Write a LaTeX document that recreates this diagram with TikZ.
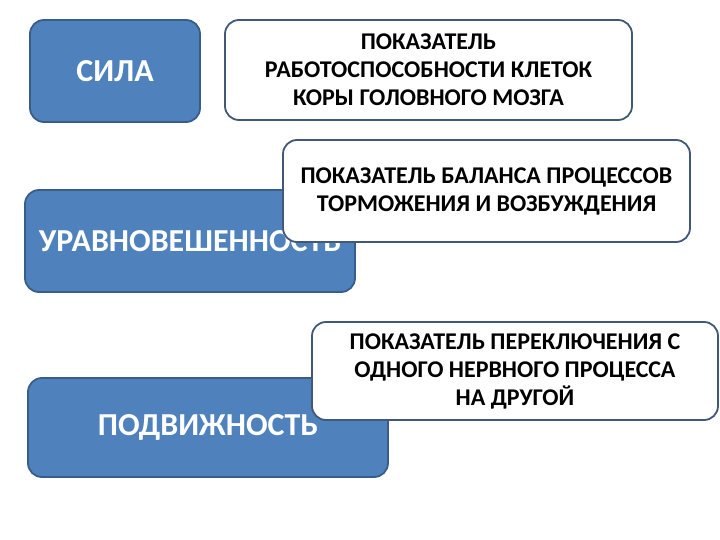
\documentclass[tikz,border=0pt]{standalone}
\usepackage{fontspec}
\setmainfont{Carlito}
\usetikzlibrary{positioning}

\definecolor{boxblue}{RGB}{79,129,189}
\definecolor{boxedge}{RGB}{56,93,138}
\definecolor{cardedge}{RGB}{65,88,118}

\tikzset{
  propbox/.style={draw=boxedge,line width=1.8pt,fill=boxblue,rounded corners=14pt,
    text=white,font=\bfseries\fontsize{32}{36}\selectfont,align=center,inner sep=0pt},
  cardbox/.style={draw=cardedge,line width=1.8pt,fill=white,rounded corners=14pt,
    text=black,font=\bfseries\fontsize{24}{28}\selectfont,align=center,inner sep=0pt}
}

\begin{document}
\begin{tikzpicture}[x=1pt,y=-1pt]
    \useasboundingbox (0,0) rectangle (720,540);

    % properties
    \node[propbox,minimum width=170pt,minimum height=102pt] (sila) at (115,71) {СИЛА};
    \node[propbox,minimum width=330pt,minimum height=102pt] (urav) at (190,241) {УРАВНОВЕШЕННОСТЬ};
    \node[propbox,minimum width=360pt,minimum height=99pt] (podv) at (208,427.5) {ПОДВИЖНОСТЬ};

    % indicators
    \node[cardbox,minimum width=407pt,minimum height=100pt] (silacard) at (428.5,70)
        {ПОКАЗАТЕЛЬ\\РАБОТОСПОСОБНОСТИ КЛЕТОК\\КОРЫ ГОЛОВНОГО МОЗГА};
    \node[cardbox,minimum width=407pt,minimum height=102pt] (uravcard) at (486.5,191)
        {ПОКАЗАТЕЛЬ БАЛАНСА ПРОЦЕССОВ\\ТОРМОЖЕНИЯ И ВОЗБУЖДЕНИЯ};
    \node[cardbox,minimum width=406pt,minimum height=98pt] (podvcard) at (515,371)
        {ПОКАЗАТЕЛЬ ПЕРЕКЛЮЧЕНИЯ С\\ОДНОГО НЕРВНОГО ПРОЦЕССА\\НА ДРУГОЙ};
\end{tikzpicture}
\end{document}
